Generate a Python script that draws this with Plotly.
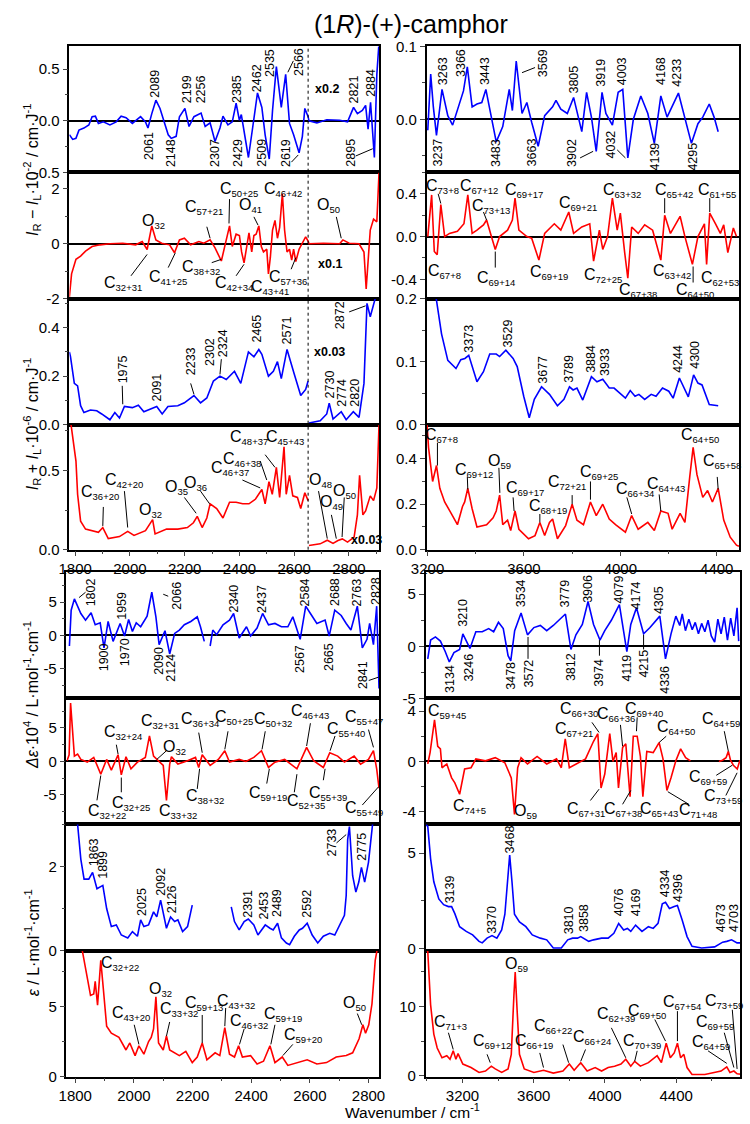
import plotly.graph_objects as go

W, H = 750, 1124
FONT = "Liberation Sans, Arial, sans-serif"
BLUE = "#0000ff"
RED = "#ff0000"

# ---------------- data ----------------
# Panel 1 : IR-IL (x10^-2), blue, left / right
p1l_x = [1779,1791,1803,1814,1832, 1850,1862,1874,1885,1903, 1927,1950,1968,1986,2009,
         2039,2057,2066,2080,2095, 2110,2125,2140,2151,2169, 2181,2201,2216,2234,2260,
         2275,2293,2311,2329,2340, 2358,2374,2388,2400,2407, 2417,2433,2449,2466,2482,
         2494,2509,2521,2535,2553, 2569,2583,2598,2618,2630, 2639,2651,2654,2683,2719,
         2766,2795,2817,2831,2849, 2861,2870,2879,2893,2902, 2910]
p1l_y = [-0.135,-0.18,-0.17,-0.09,-0.07, -0.04,0.04,0.045,-0.025,-0.01, -0.04,-0.01,0.045,0.03,-0.025,
         0.04,-0.01,-0.07,0.07,0.2, 0.12,-0.01,-0.135,-0.17,-0.15, 0.04,0.12,-0.055,0.04,0.075,
         -0.055,-0.02,-0.2,-0.07,0.045, -0.04,-0.01,0.17,0.005,0.06, -0.1,-0.355,-0.055,0.27,0.13,
         -0.135,-0.37,0.1,0.525,0.13, 0.45,-0.025,-0.135,-0.31,-0.15, 0.12,0.04,0.0,-0.02,0.01,
         0.005,-0.01,0.13,0.07,0.1, 0.15,-0.08,0.18,-0.355,0.45, 0.76]
p1r_x = [3201,3213,3224,3237,3260, 3284,3304,3324,3349,3365, 3385,3405,3425,3442,3465,
         3485,3512,3539,3552,3568, 3592,3612,3632,3659,3686, 3719,3733,3753,3780,3806,
         3840,3860,3880,3900,3924, 3940,3967,3991,4010,4031, 4054,4085,4114,4141,4168,
         4194,4241,4268,4295,4322, 4342,4369,4389,4406]
p1r_y = [-0.015,0.062,0.017,-0.022,0.041, 0.005,-0.008,0.012,0.039,0.072, 0.017,0.021,0.023,0.041,0.0,
         -0.031,-0.01,0.041,0.012,0.08, 0.008,0.023,-0.004,-0.037,0.005, 0.017,0.026,0.014,0.008,0.03,
         -0.017,0.037,0.003,-0.044,0.037, 0.008,-0.008,0.037,0.041,-0.053, 0.0,0.032,0.008,-0.033,0.032,
         0.003,0.036,0.0,-0.033,-0.006, 0.003,0.021,0.003,-0.017]

# Panel 2 : IR-IL, red
p2l_x = [1779,1787,1803,1820,1838, 1862,1891,1927,1974,2021, 2045,2063,2080,2095,2116,
         2145,2163,2181,2199,2222, 2252,2270,2293,2311,2334, 2350,2364,2374,2388,2400,
         2408,2417,2426,2435,2445, 2453,2461,2471,2480,2488, 2500,2506,2513,2521,2530,
         2539,2547,2557,2565,2574, 2583,2591,2598,2606,2618, 2630,2642,2651,2654,2707,
         2766,2778,2801,2837,2855, 2863,2872,2878,2890,2902, 2910]
p2l_y = [-1.94,-1.1,-0.57,-0.45,-0.27, -0.1,-0.04,0.0,0.02,-0.04, 0.08,-0.21,0.65,0.14,0.02,
         -0.04,-0.33,0.14,0.2,-0.04, 0.08,0.02,0.14,-0.15,-0.63, 0.0,0.65,-0.1,0.35,0.3,
         -0.3,-0.7,-0.2,0.4,-0.3, 0.3,0.35,0.65,-0.1,-0.3, -0.2,-1.1,-0.5,0.5,0.85,
         0.2,0.6,1.82,0.5,-0.3, -0.2,-0.6,-0.2,-0.65,-0.2, 0.0,0.25,0.1,0.0,0.02,
         0.0,0.14,0.02,0.0,-0.3, -1.65,-0.3,0.5,0.9,0.8, 2.6]
p2r_x = [3201,3217,3228,3240,3255, 3271,3291,3324,3351,3367, 3385,3405,3432,3445,3465,
         3481,3499,3532,3552,3563, 3579,3612,3632,3662,3686, 3726,3753,3786,3806,3840,
         3873,3889,3913,3927,3947, 3967,3987,4000,4018,4031, 4047,4074,4101,4134,4168,
         4184,4208,4248,4268,4299, 4322,4349,4358,4371,4395, 4415,4429,4446,4469,4482]
p2r_y = [0.0,0.39,-0.14,-0.17,0.3, 0.0,0.03,0.05,0.12,0.39, 0.03,0.06,0.11,0.155,0.0,
         -0.12,0.0,0.06,0.155,0.36, 0.06,0.0,-0.015,-0.22,0.03, 0.12,0.06,0.23,0.03,0.09,
         0.12,-0.23,0.06,-0.12,0.0, 0.36,0.06,0.22,-0.15,-0.39, 0.09,0.03,0.11,0.06,-0.22,
         0.2,0.03,0.19,0.0,-0.26, 0.0,0.12,-0.26,0.22,0.12, 0.03,0.11,-0.15,0.08,0.0]

# Panel 3 : IR+IL (x10^-6), blue
p3l_x = [1779,1783,1797,1809,1820, 1832,1856,1879,1897,1927, 1945,1962,1980,2009,2031,
         2051,2098,2118,2139,2175, 2199,2234,2258,2281,2305, 2329,2352,2382,2405,2433,
         2453,2471,2482,2506,2524, 2539,2553,2574,2600,2624, 2642,2651,None,2654,2695,
         2719,2728,2742,2772,2790, 2816,2837,2855,2866,2878, 2896,2914]
p3l_y = [0.3,0.28,0.17,0.16,0.078, 0.05,0.06,0.057,0.044,0.02, 0.05,0.027,0.075,0.07,0.08,
         0.053,0.075,0.044,0.075,0.078, 0.09,0.12,0.09,0.11,0.18, 0.2,0.186,0.22,0.17,0.3,
         0.28,0.31,0.29,0.2,0.22, 0.26,0.19,0.31,0.21,0.12, 0.145,0.18,None,0.007,0.016,
         0.044,0.088,0.023,0.053,0.02, 0.053,0.03,0.17,0.5,0.445, 0.52,0.55]
p3r_x = [3232,3237,3258,3284,3318, 3338,3355,3371,3405,3432, 3458,3485,3499,3525,3555,
         3572,3599,3622,3643,3673, 3706,3739,3766,3789,3804, 3820,3844,3880,3903,3927,
         3954,3974,4021,4041,4061, 4077,4101,4128,4148,4175, 4201,4219,4245,4282,4304,
         4322,4339,4369,4406]
p3r_y = [0.21,0.198,0.144,0.102,0.089, 0.103,0.105,0.11,0.068,0.084, 0.112,0.112,0.108,0.118,0.105,
         0.092,0.045,0.011,0.04,0.06, 0.048,0.03,0.04,0.06,0.055, 0.058,0.039,0.076,0.068,0.072,
         0.058,0.058,0.042,0.054,0.045, 0.048,0.04,0.048,0.045,0.058, 0.053,0.042,0.074,0.044,0.079,
         0.066,0.063,0.032,0.03]

# Panel 4 : IR+IL, red
p4l_x = [1785,1791,1803,1809,1820, 1838,1868,1885,1901,1921, 1962,1992,2015,2057,2083,
         2092,2134,2175,2210,2232, 2246,2264,2281,2293,2317, 2340,2364,2388,2412,2435,
         2459,2482,2494,2508,2520, 2535,2547,2563,2571,2583, 2595,2612,2624,2639,2651,
         None,2654,2695,2721,2742, 2760,2776,2795,2819,2831, 2839,2851,2861,2878,2890,
         2902,2910]
p4l_y = [0.79,0.7,0.56,0.35,0.18, 0.13,0.12,0.11,0.14,0.07, 0.083,0.116,0.09,0.12,0.19,
         0.1,0.13,0.13,0.14,0.17, 0.21,0.14,0.2,0.29,0.26, 0.2,0.3,0.3,0.29,0.29,
         0.32,0.38,0.29,0.43,0.35, 0.52,0.33,0.65,0.35,0.47, 0.34,0.33,0.26,0.36,0.31,
         None,0.027,0.037,0.06,0.04, 0.058,0.068,0.048,0.08,0.22, 0.47,0.22,0.245,0.34,0.31,
         0.39,0.79]
p4r_x = [3198,3204,3221,3237,3251, 3271,3298,3324,3345,3354, 3367,3385,3405,3445,3472,
         3485,3499,3512,3532,3545, 3563,3579,3619,3646,3666, 3686,3706,3719,3739,3773,
         3800,3820,3847,3876,3900, 3927,3954,3980,4021,4047, 4074,4114,4141,4168,4198,
         4215,4248,4268,4288,4302, 4318,4342,4362,4382,4406, 4429,4456,4482,4492]
p4r_y = [0.55,0.45,0.3,0.37,0.27, 0.21,0.16,0.11,0.19,0.21, 0.27,0.18,0.1,0.11,0.14,
         0.17,0.24,0.11,0.13,0.084, 0.17,0.09,0.048,0.062,0.12, 0.062,0.12,0.135,0.048,0.106,
         0.2,0.13,0.11,0.21,0.15, 0.2,0.135,0.11,0.077,0.15, 0.09,0.12,0.084,0.17,0.16,
         0.09,0.16,0.12,0.32,0.45, 0.33,0.23,0.26,0.21,0.27, 0.13,0.055,0.02,0.015]

# Panel 5 : delta-epsilon x10^4, blue
p5l_x = [1780,1786,1797,1808,1819, 1835,1854,1868,1885,1898, 1912,1929,1953,1968,1982,
         1995,2008,2023,2045,2061, 2075,2086,2106,2122,2139, 2155,2172,2194,2216,2227,
         2240,None,2260,2269,2282, 2304,2326,2340,2359,2384, 2398,2420,2439,2459,2481,
         2503,2525,2542,2567,2586, 2602,2624,2652,2666,2685, 2707,2724,2740,2762,2779,
         2795,2804,2817,2828,2836]
p5l_y = [-1.6,3.8,5.5,4.3,3.3, 2.3,3.4,1.6,1.9,-1.9, 2.1,-0.9,1.8,-0.1,2.4,
         0.6,1.9,1.3,2.9,6.5, 2.8,-1.4,0.7,-2.8,0.3, 0.8,1.6,2.1,2.8,1.3,
         -0.9,None,-1.6,0.8,0.1, 1.6,2.3,3.3,-0.4,1.3, -0.1,1.1,3.3,1.6,1.8,
         1.3,1.3,2.8,-0.6,4.4, 3.3,1.8,2.3,-0.1,3.8, 3.0,1.8,0.8,4.4,-1.9,
         -0.6,1.8,-1.4,4.4,-8.0]
p5r_x = [3005,3021,3048,3076,3103, 3126,3152,3184,3202,3224, 3242,3275,3311,3347,3375,
         3402,3429,3456,3471,3493, 3529,3565,3601,3637,3673, 3710,3746,3778,3809,3837,
         3873,3905,3936,3972,3999, 4036,4081,4123,4145,4177, 4217,4253,4308,4340,4371,
         4398,4420,4434,4452,4471, 4490,4507,4525,4543,4561, 4579,4597,4616,4634,4652,
         4670,4688,4706,4724,4742, 4751]
p5r_y = [-1.2,0.6,0.9,0.5,-0.5, -1.5,-0.6,-0.3,1.2,0.5, -0.2,1.4,1.4,1.7,1.4,
         2.3,1.7,-0.9,-1.4,1.5, 3.2,1.1,1.8,2.0,1.5, 2.0,2.6,3.1,-0.3,1.1,
         2.1,4.3,2.1,0.6,1.5, 2.5,4.0,-0.5,2.1,3.7, 1.2,1.8,2.9,-1.2,1.2,
         2.9,2.0,3.1,1.5,2.6, 1.6,2.3,1.2,2.2,1.4, 2.5,1.0,0.4,2.6,1.2,
         2.8,0.6,2.7,1.0,3.7, 0.5]

# Panel 6 : delta-epsilon, red
p6l_x = [1772,1779,1784,1790,1797, 1808,1819,1841,1863,1887, 1907,1923,1946,1957,1973,
         1990,2012,2039,2053,2067, 2084,2100,2111,2122,2128, 2150,2183,2210,2221,2233,
         2260,2288,2310,2326,2359, 2382,2409,2435,2459,2481, 2514,2556,2589,2613,2646,
         2668,2695,2718,2751,2773, 2800,2817,2828,2836]
p6l_y = [0.1,1.0,8.7,5.0,0.8, 1.1,0.3,-0.1,0.6,-1.9, 0.3,-1.3,1.0,-2.0,0.7,
         -1.1,-0.1,0.6,3.8,0.8, 0.1,-0.6,-5.8,-0.4,0.7, -0.4,0.1,0.6,-0.9,1.0,
         -0.6,0.3,1.6,-0.1,0.3, 0.0,0.6,1.6,-0.9,-0.1, 0.3,-1.1,2.1,0.1,-0.9,
         1.3,0.8,-0.1,0.8,-0.4, 0.3,1.6,-1.1,-4.0]
p6r_x = [3005,3018,3043,3061,3076, 3085,3112,3139,3157,3184, 3212,3248,3275,3329,3384,
         3438,3474,3492,3510,3529, 3565,3619,3673,3728,3755, 3777,3800,3837,3891,3936,
         3960,3978,3999,4027,4045, 4063,4076,4099,4117,4141, 4159,4181,4199,4213,4235,
         4271,4304,4326,4348,4371, 4398,4425,4453,4480,None, 4640,4660,4680,4693,4705,
         4721,4743,4758]
p6r_y = [-0.2,0.7,3.3,1.2,1.0, -0.5,-0.2,-1.3,-1.7,-2.6, -0.6,-0.5,0.2,0.05,0.3,
         -0.1,-1.3,-4.2,-0.5,0.3, -0.2,0.4,-0.2,0.2,-0.5, 1.8,-0.5,-0.2,0.2,1.6,
         2.2,-2.1,-1.0,2.2,0.0, 0.7,-2.1,1.1,1.4,-2.8, 2.0,2.0,0.4,-2.8,0.8,
         0.7,1.5,0.2,-2.3,-1.3, 0.05,1.0,0.3,0.05,None, 0.0,0.1,0.3,0.8,0.1,
         -0.3,-0.6,0.1]

# Panel 7 : epsilon, blue
p7l_x = [1806,1808,1819,1830,1846, 1859,1874,1894,1907,1923, 1940,1957,1979,1995,2012,
         2023,2034,2050,2067,2078, 2091,2100,2111,2125,2139, 2150,2166,2183,2199,None,
         2332,2343,2359,2376,2390, 2409,2423,2448,2464,2475, 2490,2503,2520,2531,2547,
         2564,2575,2591,2608,2627, 2646,2668,2685,2702,2718, 2724,2729,2735,2746,2757,
         2767,2776,2787,2800,2812, 2817]
p7l_y = [3.2,3.0,2.17,1.7,1.7, 1.86,1.47,1.55,1.0,0.57, 0.61,0.37,0.3,0.45,0.34,
         0.73,0.57,0.61,0.92,0.8, 1.2,0.92,0.53,0.8,0.69, 0.73,0.45,0.57,1.08,None,
         1.04,0.69,0.49,0.69,0.75, 0.61,0.37,0.61,0.53,0.49, 0.65,0.3,0.18,0.14,0.34,
         0.49,0.53,0.65,0.37,0.18, 0.34,0.41,0.37,0.61,0.84, 1.31,2.64,2.95,1.78,1.39,
         1.63,1.98,1.63,2.1,2.95, 3.2]
p7r_x = [2995,3005,3021,3039,3067, 3094,3121,3139,3157,3184, 3221,3257,3293,3311,3338,
         3366,3393,3420,3438,3452, 3465,3478,3492,3520,3556, 3592,3637,3673,3710,3755,
         3791,3818,3846,3864,3909, 3936,3981,4018,4050,4077, 4105,4126,4145,4172,4208,
         4244,4271,4298,4322,4340, 4362,4389,4407,4434,4461, 4489,4543,4616,4661,4684,
         4711,4742,4769]
p7r_y = [6.5,6.4,4.7,3.5,2.6, 2.3,2.2,2.2,1.83,1.15, 0.9,0.72,0.38,0.3,0.55,
         0.68,0.55,0.98,1.8,3.5, 4.9,3.5,1.8,1.4,1.15, 0.72,0.55,0.46,0.03,0.03,
         0.46,0.55,0.55,0.63,0.38, 0.46,0.55,0.55,0.8,1.32, 0.98,1.06,0.9,1.23,0.9,
         1.15,1.06,1.32,2.35,2.43, 2.1,2.2,2.26,1.49,0.63, 0.12,0.03,0.09,0.34,0.38,
         0.46,0.3,0.3]

# Panel 8 : epsilon, red
p8l_x = [1824,1830,1841,1852,1863, 1868,1876,1887,1896,1907, 1923,1940,1949,1973,1986,
         2004,2017,2034,2050,2059, 2067,2075,2084,2100,2111, 2122,2139,2155,2177,2199,
         2216,2233,2249,2277,2293, 2310,2326,2343,2357,2370, 2398,2420,2442,2464,2481,
         2506,2525,2558,2591,2624, 2657,2690,2724,2746,2768, 2781,2790,2801,2812,2823,
         2829]
p8l_y = [9.0,8.3,7.1,5.8,5.9, 6.8,5.1,8.3,6.2,3.6, 3.1,2.9,2.8,1.9,2.4,
         1.5,2.2,1.6,2.5,2.8, 3.4,5.7,2.4,1.9,2.9, 1.9,1.7,1.5,1.8,1.0,
         1.4,2.4,1.2,1.7,1.5, 3.5,1.6,1.4,2.2,1.4, 1.5,0.9,1.1,2.2,1.0,
         1.4,0.8,1.0,1.2,0.9, 1.0,1.4,1.5,1.7,2.7, 3.7,3.1,3.7,5.2,8.3,
         9.0]
p8r_x = [3000,3005,3021,3039,3058, 3085,3112,3130,3148,3163, 3175,3202,3248,3293,3329,
         3362,3384,3420,3456,3474, 3489,3496,3507,3520,3547, 3601,3655,3710,3764,3800,
         3827,3864,3900,3945,3981, 4018,4054,4090,4117,4145, 4167,4199,4244,4280,4293,
         4317,4344,4367,4389,4407, 4425,4443,4461,4489,4561, 4652,4684,4702,4724,4742,
         4778]
p8r_y = [18,17.9,10.2,6.0,4.0, 2.6,2.9,2.4,3.6,2.4, 3.2,1.7,1.2,0.5,0.7,
         1.4,1.0,0.5,1.0,3.1, 11.7,14.9,9.3,3.1,1.0, 0.5,0.8,0.4,0.7,1.7,
         0.8,1.9,0.7,1.2,0.7, 1.2,1.4,1.7,2.4,1.4, 2.1,1.4,1.9,2.6,2.9,
         1.9,4.7,2.6,3.3,4.7, 2.6,3.1,1.2,0.2,0.2, 0.7,1.3,0.5,0.7,0.3,
         0.2]

# tick labels
x_top_left_ticks = [1800, 2000, 2200, 2400, 2600, 2800]
x_top_right_ticks = [3200, 3600, 4000, 4400]
x_bot_left_ticks = [1800, 2000, 2200, 2400, 2600, 2800]
x_bot_right_ticks = [3200, 3600, 4000, 4400]

# peak-number labels (text, x, y) per panel
nums = {
    1: [("2089",2092,0.36),("2199",2208,0.305),("2256",2258,0.30),("2385",2394,0.305),
        ("2462",2465,0.415),("2535",2512,0.56),("2566",2618,0.57),("2821",2819,0.305),
        ("2884",2878,0.37),("2061",2069,-0.245),("2148",2151,-0.31),("2307",2311,-0.31),
        ("2429",2395,-0.31),("2509",2482,-0.31),("2619",2571,-0.31),("2895",2807,-0.31)],
    2: [("3263",3264,0.066),("3366",3338,0.077),("3443",3438,0.066),("3569",3679,0.077),
        ("3805",3806,0.054),("3919",3920,0.064),("4003",4007,0.066),("4168",4168,0.066),
        ("4233",4235,0.064),("3237",3242,-0.046),("3483",3485,-0.046),("3663",3632,-0.046),
        ("3902",3800,-0.046),("4032",3960,-0.035),("4139",4144,-0.051),("4295",4302,-0.051)],
    5: [("1975",1974,0.227),("2091",2098,0.152),("2233",2222,0.26),("2302",2293,0.30),
        ("2324",2340,0.336),("2465",2465,0.397),("2571",2575,0.39),("2730",2731,0.166),
        ("2774",2772,0.132),("2820",2819,0.132),("2872",2766,0.45)],
    6: [("3373",3371,0.136),("3529",3532,0.144),("3677",3679,0.087),("3789",3784,0.089),
        ("3884",3880,0.105),("3933",3934,0.1),("4244",4241,0.105),("4300",4312,0.11)],
    9: [("1802",1854,6.5),("1959",1957,4.5),("2066",2144,6.0),("2340",2340,5.5),
        ("2437",2437,5.5),("2584",2584,6.5),("2688",2685,6.5),("2763",2762,6.5),
        ("2828",2826,6.7),("1900",1898,-3.3),("1970",1968,-2.6),("2090",2083,-3.8),
        ("2124",2128,-4.8),("2567",2569,-3.6),("2665",2668,-3.3),("2841",2781,-6.0)],
    10: [("3210",3202,3.2),("3534",3529,5.1),("3779",3778,5.1),("3906",3904,5.5),
         ("4079",4081,5.5),("4174",4175,4.9),("4305",4307,4.4),("3134",3126,-3.1),
         ("3246",3239,-2.0),("3478",3474,-2.8),("3572",3574,-2.6),("3812",3809,-2.0),
         ("3974",3969,-2.5),("4119",4126,-2.1),("4215",4217,-1.7),("4336",4338,-3.2)],
    13: [("1863",1863,2.33),("1899",1896,2.05),("2025",2028,1.16),("2092",2091,1.63),
         ("2126",2128,1.23),("2391",2390,1.12),("2453",2445,1.08),("2489",2490,1.12),
         ("2592",2591,1.12),("2733",2674,2.56),("2775",2779,2.48)],
    14: [("3139",3135,3.1),("3370",3365,1.5),("3468",3465,5.7),("3810",3800,1.5),
         ("3858",3882,1.6),("4076",4076,2.45),("4169",4172,2.4),("4334",4335,3.4),
         ("4396",4407,3.2),("4673",4652,1.6),("4703",4724,1.6)],
}

# assignment labels (letter, index, x, y) per panel
labs = {
    3: [("O","32",2086,0.8),("C","57+21",2269,1.33),("C","50+25",2400,1.99),("O","41",2441,1.39),
        ("C","46+42",2559,1.99),("O","50",2725,1.39),("C","32+31",1974,-1.46),("C","41+25",2140,-1.23),
        ("C","38+32",2258,-0.87),("C","42+34",2382,-1.46),("C","43+41",2512,-1.58),("C","57+36",2577,-1.23)],
    4: [("C","73+8",3264,0.465),("C","67+12",3412,0.465),("C","73+13",3465,0.28),("C","69+17",3599,0.43),
        ("C","69+21",3826,0.31),("C","63+32",4007,0.43),("C","65+42",4221,0.43),("C","61+55",4402,0.43),
        ("C","67+8",3271,-0.33),("C","69+14",3485,-0.39),("C","69+19",3706,-0.34),("C","72+25",3927,-0.36),
        ("C","67+38",4074,-0.5),("C","63+42",4215,-0.33),("C","64+50",4308,-0.5),("C","62+53",4415,-0.39)],
    7: [("C","36+20",1892,0.36),("C","42+20",1980,0.44),("O","32",2074,0.245),("O","35",2169,0.39),
        ("O","36",2240,0.42),("C","46+37",2364,0.51),("C","46+38",2411,0.57),("C","48+37",2435,0.71),
        ("C","45+43",2565,0.71),("O","48",2695,0.44),("O","49",2736,0.30),("O","50",2783,0.37)],
    8: [("C","67+8",3258,0.50),("C","69+12",3391,0.35),("O","59",3498,0.39),("C","69+17",3606,0.27),
        ("C","68+19",3699,0.19),("C","72+21",3779,0.294),("C","69+25",3913,0.34),("C","66+34",4061,0.265),
        ("C","64+43",4188,0.287),("C","64+50",4329,0.5),("C","65+58",4422,0.39)],
    11: [("C","32+24",1962,4.3),("C","32+31",2089,6.0),("O","32",2139,2.1),("C","36+34",2227,6.2),
         ("C","50+25",2343,6.5),("C","50+32",2475,6.2),("C","46+43",2602,7.5),("C","55+40",2724,4.75),
         ("C","55+47",2784,6.5),("C","32+22",1907,-7.5),("C","32+25",1990,-6.3),("C","33+32",2150,-7.5),
         ("C","38+32",2244,-5.3),("C","59+19",2459,-4.8),("C","52+35",2586,-6.0),("C","55+39",2663,-4.8),
         ("C","55+49",2784,-7.0)],
    12: [("C","59+45",3112,4.0),("C","74+5",3239,-3.6),("O","59",3556,-4.0),("C","66+30",3855,4.1),
         ("C","67+21",3827,2.55),("C","66+36",4063,3.7),("C","69+40",4217,4.1),("C","64+50",4398,2.7),
         ("C","64+59",4652,3.3),("C","67+31",3893,-3.8),("C","67+38",4101,-3.8),("C","65+43",4302,-3.8),
         ("C","71+48",4520,-3.9),("C","69+59",4579,-1.3),("C","73+59",4661,-2.8)],
    15: [("C","32+22",1951,8.05),("C","43+20",1990,4.5),("O","32",2089,6.2),("C","33+32",2155,4.8),
         ("C","59+13",2238,5.2),("C","43+32",2348,5.35),("C","46+32",2393,3.9),("C","59+19",2508,4.4),
         ("C","59+20",2575,2.9),("O","50",2751,5.2)],
    16: [("C","71+3",3130,7.6),("C","69+12",3365,5.0),("O","59",3501,16.0),("C","66+19",3601,5.0),
         ("C","66+22",3710,7.1),("C","66+24",3927,5.5),("C","62+39",4063,8.8),("C","70+39",4208,5.0),
         ("C","69+50",4235,9.3),("C","67+54",4434,10.5),("C","73+59",4670,10.7),("C","69+59",4616,7.6),
         ("C","64+59",4598,4.8)],
}

# leader lines (x0, y0, x1, y1) per panel
leads = {
    1: [(2597,0.58,2577,0.47),(2590,-0.40,2615,-0.33),(2825,-0.34,2887,-0.27)],
    2: [(3646,0.071,3592,0.064),(3833,-0.053,3887,-0.044),(3987,-0.042,4021,-0.053)],
    3: [(2281,0.62,2293,0.2),(2364,1.63,2362,0.74),(2453,0.98,2468,0.68),(2754,0.98,2772,0.2),
        (2004,-1.17,2063,-0.39),(2140,-0.87,2166,-0.33),(2299,-0.69,2334,-0.57),(2388,-1.17,2417,-0.75),
        (2589,-0.93,2606,-0.51)],
    4: [(3244,0.40,3255,0.31),(3432,0.23,3445,0.155),(4184,0.36,4184,0.22),(4371,0.36,4371,0.23),
        (3481,-0.29,3481,-0.14),(4302,-0.43,4302,-0.28)],
    5: [(1972,0.16,1974,0.084),(2222,0.17,2234,0.125),(2334,0.27,2329,0.207),(2801,0.465,2861,0.49)],
    7: [(1903,0.27,1901,0.15),(1980,0.37,1992,0.14),(2199,0.33,2242,0.23),(2258,0.37,2291,0.29),
        (2411,0.44,2476,0.39),(2476,0.56,2500,0.44),(2494,0.60,2530,0.52),(2689,0.37,2721,0.07),
        (2736,0.22,2754,0.07),(2783,0.33,2775,0.08)],
    8: [(3241,0.47,3241,0.37),(3365,0.32,3367,0.265),(3496,0.36,3500,0.25),(3555,0.23,3559,0.17),
        (3666,0.157,3666,0.12),(3800,0.24,3800,0.2),(3876,0.30,3876,0.22),(4027,0.23,4047,0.157),
        (4161,0.243,4168,0.17),(4402,0.32,4406,0.265)],
    9: [(1835,6.5,1813,5.7),(2100,6.2,2117,5.9),(2801,-6.8,2834,-6.3)],
    10: [(3568,-1.2,3568,0.9),(3969,-0.9,3969,0.6),(4217,-0.3,4217,1.1)],
    11: [(1940,2.5,1946,1.1),(2111,1.6,2078,0.3),(2221,4.3,2233,1.3),(2321,4.5,2310,1.8),
         (2448,4.5,2437,1.8),(2602,5.7,2589,2.3),(2686,3.8,2669,1.6),(2800,4.75,2817,2.1),
         (1874,-5.8,1887,-2.1),(1957,-4.6,1957,-2.4),(2216,-4.1,2224,-1.1),(2453,-3.3,2462,-1.1),
         (2547,-4.6,2556,-1.9),(2646,-2.8,2652,-1.1),(2779,-6.5,2834,-3.8)],
    12: [(3927,3.1,3967,2.3),(4087,2.9,4099,1.2),(4181,3.5,4177,2.4),(4344,2.0,4304,1.5),
         (4670,2.4,4693,0.8),(3918,-3.1,3967,-2.2),(4099,-3.4,4145,-2.3),(4471,-3.4,4353,-2.4),
         (4625,-1.1,4715,-0.3),(4679,-2.7,4742,-0.9)],
    13: [(2691,2.56,2724,2.76)],
    15: [(2001,3.7,2017,2.3),(2122,3.9,2111,2.9),(2233,4.4,2233,2.4),(2313,4.9,2310,3.6),
         (2376,3.4,2360,2.3),(2481,3.7,2467,2.3),(2542,2.3,2508,1.5),(2762,4.5,2777,3.7)],
    16: [(3121,6.2,3148,3.8),(3338,3.1,3356,1.9),(3634,3.3,3655,1.2),(3764,4.5,3796,1.9),
         (3891,3.8,3864,2.1),(4036,6.9,4117,2.6),(4181,3.6,4167,2.1),(4280,8.1,4340,5.0),
         (4407,9.3,4407,5.0),(4715,9.5,4742,1.0),(4670,6.2,4724,1.2),(4579,3.6,4684,1.8)],
}

# scale factor labels (text, panel, x, y)
scale_labels = [("x0.2",1,2719,0.31),("x0.1",3,2730,-0.73),("x0.03",5,2730,0.30),("x0.03",7,2866,0.06)]

# ---------------- layout geometry ----------------
def py(p):
    return 1 - p / H

COLX = {"TL": (55, 374), "TR": (423, 745), "BL": (52, 374), "BR": (422, 746)}
XR = {"TL": [1779, 2910], "TR": [3196, 4493], "BL": [1770, 2836], "BR": [2993, 4759]}
ROWS = [(38, 166), (166, 294), (294, 422), (422, 549), (572, 700), (700, 828), (828, 956), (956, 1084)]

panels = [
    # idx, row, col, yrange, tickvals, ticktext, minor, x, y, color, zeroline
    (1, 0, "TL", [-0.5, 0.72], [-0.5, 0, 0.5], ["-0.5", "0.0", "0.5"], 0.25, p1l_x, p1l_y, BLUE, True),
    (2, 0, "TR", [-0.073, 0.1], [0, 0.1], ["0.0", "0.1"], 0.05, p1r_x, p1r_y, BLUE, True),
    (3, 1, "TL", [-2, 2.6], [-2, 0, 2], ["-2", "0", "2"], 1, p2l_x, p2l_y, RED, True),
    (4, 1, "TR", [-0.58, 0.6], [-0.4, 0, 0.4], ["-0.4", "0.0", "0.4"], 0.2, p2r_x, p2r_y, RED, True),
    (5, 2, "TL", [0, 0.52], [0, 0.2, 0.4], ["0.0", "0.2", "0.4"], 0.1, p3l_x, p3l_y, BLUE, False),
    (6, 2, "TR", [0, 0.2], [0, 0.1, 0.2], ["0.0", "0.1", "0.2"], 0.05, p3r_x, p3r_y, BLUE, False),
    (7, 3, "TL", [0, 0.79], [0, 0.5], ["0.0", "0.5"], 0.25, p4l_x, p4l_y, RED, False),
    (8, 3, "TR", [0, 0.55], [0, 0.2, 0.4], ["0.0", "0.2", "0.4"], 0.1, p4r_x, p4r_y, RED, False),
    (9, 4, "BL", [-9.5, 9.5], [-5, 0, 5], ["-5", "0", "5"], 2.5, p5l_x, p5l_y, BLUE, True),
    (10, 4, "BR", [-5, 7.1], [-5, 0, 5], ["-5", "0", "5"], 2.5, p5r_x, p5r_y, BLUE, True),
    (11, 5, "BL", [-9.4, 9.4], [-5, 0, 5], ["-5", "0", "5"], 2.5, p6l_x, p6l_y, RED, True),
    (12, 5, "BR", [-5, 5], [-4, 0, 4], ["-4", "0", "4"], 2, p6r_x, p6r_y, RED, True),
    (13, 6, "BL", [0, 3], [0, 2], ["0", "2"], 1, p7l_x, p7l_y, BLUE, False),
    (14, 6, "BR", [-0.1, 6.5], [0, 5], ["0", "5"], 2.5, p7r_x, p7r_y, BLUE, False),
    (15, 7, "BL", [0, 9], [0, 5], ["0", "5"], 2.5, p8l_x, p8l_y, RED, False),
    (16, 7, "BR", [-0.1, 18], [0, 10], ["0", "10"], 5, p8r_x, p8r_y, RED, False),
]

def refs(i):
    return ("x" if i == 1 else f"x{i}", "y" if i == 1 else f"y{i}")

fig = go.Figure()
layout = dict(width=W, height=H, margin=dict(l=0, r=0, t=0, b=0),
              paper_bgcolor="white", plot_bgcolor="white", showlegend=False,
              font=dict(family=FONT, color="black", size=14))
shapes, annotations = [], []

for (i, row, col, yr, tv, tt, mn, xs, ys, color, zl) in panels:
    xr, yr_ref = refs(i)
    x0p, x1p = COLX[col]
    top, bot = ROWS[row]
    showx = row in (3, 7)
    xticks = {"TL": x_top_left_ticks, "TR": x_top_right_ticks,
              "BL": x_bot_left_ticks, "BR": x_bot_right_ticks}[col]
    xminor = 100 if col in ("TL", "BL") else 200
    xa = dict(domain=[x0p / W, x1p / W], anchor=yr_ref, range=XR[col],
              showline=True, mirror=True, linecolor="black", linewidth=1.5,
              showgrid=False, zeroline=False)
    if showx:
        xa.update(tickvals=xticks, ticktext=[str(v) for v in xticks], ticks="outside",
                  ticklen=5, tickwidth=1.2, tickfont=dict(size=15, family=FONT),
                  minor=dict(dtick=xminor, ticks="outside", ticklen=3, tickwidth=1, tick0=0))
    else:
        xa.update(showticklabels=False, ticks="")
    ya = dict(domain=[py(bot), py(top)], anchor=xr, range=yr,
              showline=True, mirror=True, linecolor="black", linewidth=1.5,
              showgrid=False, zeroline=zl, zerolinecolor="black", zerolinewidth=1.8,
              tickvals=tv, ticktext=tt, ticks="outside", ticklen=5, tickwidth=1.2,
              tickfont=dict(size=15, family=FONT),
              minor=dict(dtick=mn, tick0=0, ticks="outside", ticklen=3, tickwidth=1))
    layout["xaxis" if i == 1 else f"xaxis{i}"] = xa
    layout["yaxis" if i == 1 else f"yaxis{i}"] = ya
    fig.add_trace(go.Scatter(x=xs, y=ys, mode="lines", line=dict(color=color, width=1.6),
                             xaxis=xr, yaxis=yr_ref, connectgaps=False, hoverinfo="skip",
                             cliponaxis=True))

# number labels
for i, items in nums.items():
    xr, yr_ref = refs(i)
    for (t, x, y) in items:
        annotations.append(dict(text=t, x=x, y=y, xref=xr, yref=yr_ref, showarrow=False,
                                textangle=-90, xanchor="center", yanchor="middle",
                                font=dict(size=12.5, family=FONT, color="black")))
# assignment labels
for i, items in labs.items():
    xr, yr_ref = refs(i)
    for (letter, idx, x, y) in items:
        txt = f"{letter}<sub><span style='font-size:9.5px'>{idx}</span></sub>"
        annotations.append(dict(text=txt, x=x, y=y, xref=xr, yref=yr_ref, showarrow=False,
                                xanchor="center", yanchor="middle",
                                font=dict(size=16, family=FONT, color="black")))
# leader lines
for i, items in leads.items():
    xr, yr_ref = refs(i)
    for (a, b, c, d) in items:
        shapes.append(dict(type="line", xref=xr, yref=yr_ref, x0=a, y0=b, x1=c, y1=d,
                           line=dict(color="black", width=1)))
# scale labels
for (t, i, x, y) in scale_labels:
    xr, yr_ref = refs(i)
    annotations.append(dict(text=f"<b>{t}</b>", x=x, y=y, xref=xr, yref=yr_ref, showarrow=False,
                            xanchor="center", yanchor="middle",
                            font=dict(size=12.5, family=FONT, color="black")))

# dotted divider at 2651 across the top-left panels
shapes.append(dict(type="line", xref="x", yref="paper", x0=2651, x1=2651,
                   y0=py(549), y1=py(38), line=dict(color="black", width=1, dash="dot")))

# titles
annotations.append(dict(text="(1<i>R</i>)-(+)-camphor", x=407 / W, y=py(15), xref="paper", yref="paper",
                        showarrow=False, xanchor="center", yanchor="middle",
                        font=dict(size=25, family=FONT)))
annotations.append(dict(text="Wavenumber / cm<sup>-1</sup>", x=408 / W, y=py(1116), xref="paper",
                        yref="paper", showarrow=False, xanchor="center", yanchor="top",
                        yshift=9, font=dict(size=15.5, family=FONT)))
ytitles = [
    ("<i>I</i><sub>R</sub> − <i>I</i><sub>L</sub>·10<sup>-2</sup> / cm·J<sup>-1</sup>", 163),
    ("<i>I</i><sub>R</sub> + <i>I</i><sub>L</sub>·10<sup>-6</sup> / cm·J<sup>-1</sup>", 421),
    ("<i>Δε</i>·10<sup>4</sup> / L·mol<sup>-1</sup>·cm<sup>-1</sup>", 697),
    ("<i>ε</i> / L·mol<sup>-1</sup>·cm<sup>-1</sup>", 948),
]
for (t, yc) in ytitles:
    annotations.append(dict(text=t, x=16 / W, y=py(yc), xref="paper", yref="paper",
                            showarrow=False, textangle=-90, xanchor="center", yanchor="middle",
                            font=dict(size=16, family=FONT)))

layout["shapes"] = shapes
layout["annotations"] = annotations
fig.update_layout(**layout)
fig.write_html("out.html")
